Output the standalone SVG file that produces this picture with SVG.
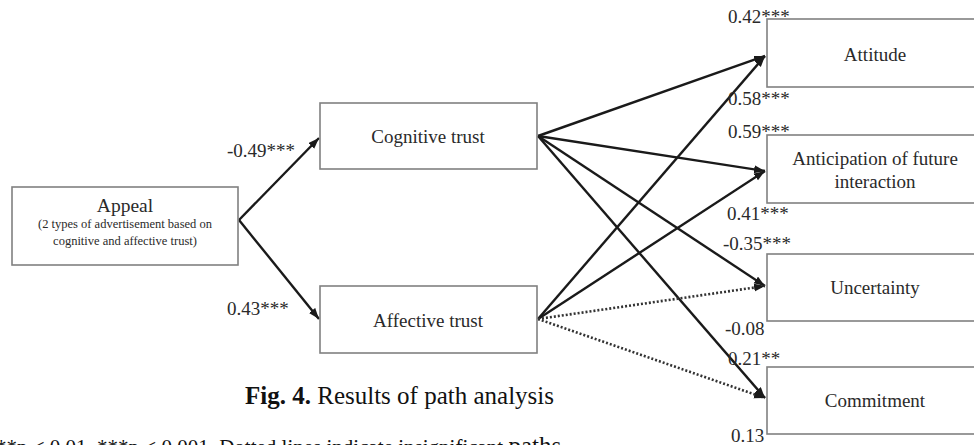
<svg xmlns="http://www.w3.org/2000/svg" width="974" height="445" viewBox="0 0 974 445">
<style>
text{font-family:"Liberation Serif","Times New Roman",serif;fill:#2a2a2a}
.box{fill:#fff;stroke:#808080;stroke-width:1.6}
.nl{font-size:19px;text-anchor:middle}
.lbl{font-size:19px}
.e{stroke:#1a1a1a;stroke-width:2.4;fill:none}
.d{stroke:#333;stroke-width:2.6;fill:none;stroke-dasharray:2 2}
</style>
<defs>
<marker id="ah" markerUnits="userSpaceOnUse" markerWidth="12" markerHeight="10" refX="11" refY="4" orient="auto">
<path d="M0,0 L11,4 L0,8 Z" fill="#1a1a1a"/>
</marker>
</defs>
<g id="connectors">
<path class="e" d="M239,220 L319,138" marker-end="url(#ah)"/>
<path class="e" d="M239,220 L319,319" marker-end="url(#ah)"/>
<path class="e" d="M538,136 L765,56" marker-end="url(#ah)"/>
<path class="e" d="M538,136 L765,171" marker-end="url(#ah)"/>
<path class="e" d="M538,136 L765,286" marker-end="url(#ah)"/>
<path class="e" d="M538,136 L765,398" marker-end="url(#ah)"/>
<path class="e" d="M538,319 L765,56" marker-end="url(#ah)"/>
<path class="e" d="M538,319 L765,171" marker-end="url(#ah)"/>
<path class="d" d="M538,319 L765,286" marker-end="url(#ah)"/>
<path class="d" d="M538,319 L765,398" marker-end="url(#ah)"/>
</g>
<g id="appeal">
<rect class="box" x="12" y="187" width="226" height="78"/>
<text class="nl" x="125" y="212" style="font-size:19.5px">Appeal</text>
<text class="nl" x="125" y="228" style="font-size:12.5px">(2 types of advertisement based on</text>
<text class="nl" x="125" y="245" style="font-size:12.5px">cognitive and affective trust)</text>
</g>
<g id="cognitive">
<rect class="box" x="320" y="103" width="217" height="66"/>
<text class="nl" x="428" y="143">Cognitive trust</text>
</g>
<g id="affective">
<rect class="box" x="320" y="286" width="217" height="67"/>
<text class="nl" x="428" y="327">Affective trust</text>
</g>
<g id="attitude">
<rect class="box" x="767" y="19" width="240" height="68"/>
<text class="nl" x="875" y="61">Attitude</text>
</g>
<g id="anticipation">
<rect class="box" x="767" y="135" width="240" height="68"/>
<text class="nl" x="875" y="165">Anticipation of future</text>
<text class="nl" x="875" y="188">interaction</text>
</g>
<g id="uncertainty">
<rect class="box" x="767" y="254" width="240" height="67"/>
<text class="nl" x="875" y="294">Uncertainty</text>
</g>
<g id="commitment">
<rect class="box" x="767" y="367" width="240" height="67"/>
<text class="nl" x="875" y="407">Commitment</text>
</g>
<g id="labels">
<text class="lbl" x="227" y="157">-0.49***</text>
<text class="lbl" x="227" y="315">0.43***</text>
<text class="lbl" x="728" y="23">0.42***</text>
<text class="lbl" x="728" y="105">0.58***</text>
<text class="lbl" x="728" y="138">0.59***</text>
<text class="lbl" x="727" y="220">0.41***</text>
<text class="lbl" x="723" y="250">-0.35***</text>
<text class="lbl" x="725" y="335">-0.08</text>
<text class="lbl" x="728" y="365">0.21**</text>
<text class="lbl" x="731" y="442">0.13</text>
</g>
<g id="caption">
<text x="245" y="404" style="font-size:25px;fill:#111"><tspan font-weight="bold">Fig. 4.</tspan> Results of path analysis</text>
<text x="-4" y="454" style="font-size:21px;fill:#111">**p &lt; 0.01, ***p &lt; 0.001. Dotted lines indicate insignificant <tspan style="font-size:25px">paths</tspan></text>
</g>
</svg>
